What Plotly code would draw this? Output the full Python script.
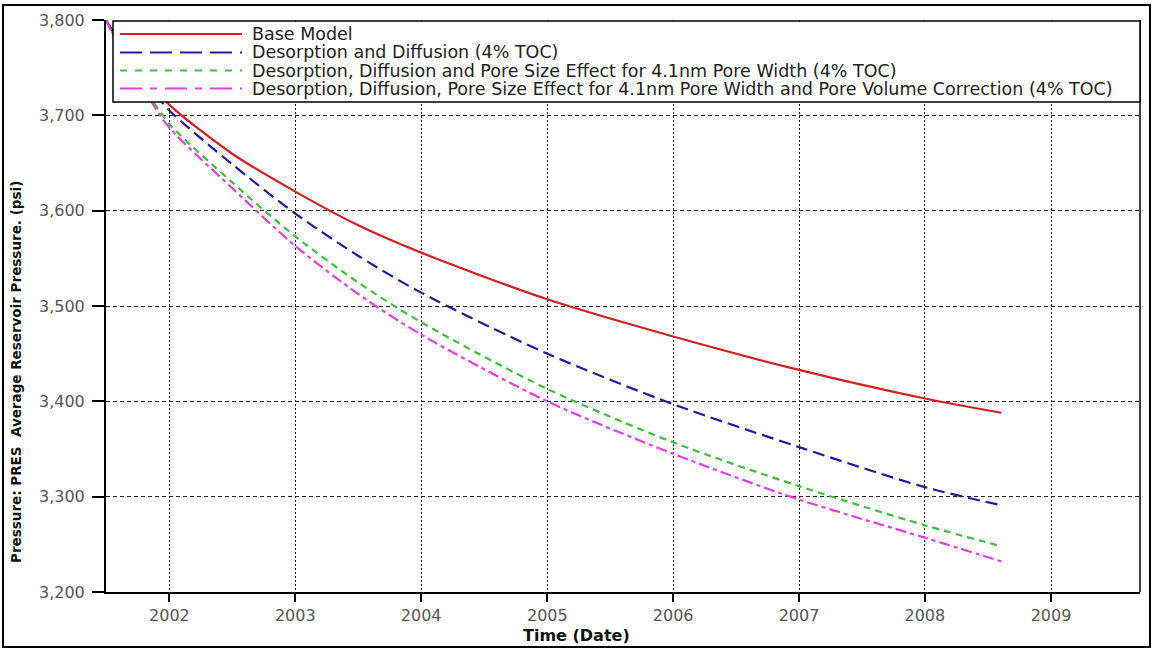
import plotly.graph_objects as go

# ---- data -------------------------------------------------------------
dates = ["2001-07-01", "2001-09-01", "2001-11-01", "2002-01-01", "2002-07-01",
         "2003-01-01", "2003-07-01", "2004-01-01", "2005-01-01", "2006-01-01",
         "2007-01-01", "2008-01-01", "2008-08-10"]

base_model = [3800, 3764, 3736, 3711, 3660, 3620, 3585, 3556, 3507, 3468, 3433, 3403, 3388]
desorption_diffusion = [3800, 3761, 3731, 3705, 3649, 3597, 3553, 3514, 3450, 3397, 3352, 3310, 3291]
pore_size_effect = [3800, 3757, 3722, 3691, 3630, 3573, 3525, 3483, 3413, 3357, 3311, 3270, 3248]
pore_volume_corr = [3800, 3755, 3719, 3687, 3624, 3563, 3513, 3470, 3400, 3345, 3297, 3257, 3232]

series_names = [
    "Base Model",
    "Desorption and Diffusion (4% TOC)",
    "Desorption, Diffusion and Pore Size Effect for 4.1nm Pore Width (4% TOC)",
    "Desorption, Diffusion, Pore Size Effect for 4.1nm Pore Width and Pore Volume Correction (4% TOC)",
]
series_values = [base_model, desorption_diffusion, pore_size_effect, pore_volume_corr]
series_colors = ["#d02020", "#1c1c9c", "#3cbf3c", "#e040e0"]
line_dashes = ["solid", "12px,6px", "7px,5px", "11px,4px,4px,4px"]
legend_dashes = ["solid", "22px,8px", "7px,8px", "22px,8px,7px,8px"]

y_ticks = [3200, 3300, 3400, 3500, 3600, 3700, 3800]

# ---- geometry of the page ----------------------------------------------
W, H = 1153, 650
L, R, T, B = 106, 13, 20, 58
PW, PH = W - L - R, H - T - B


def px_x(px):
    return (px - L) / PW


def px_y(py):
    return (H - B - py) / PH


fig = go.Figure()

for name, vals, col, dash in zip(series_names, series_values, series_colors, line_dashes):
    fig.add_trace(go.Scatter(
        x=dates, y=vals, name=name, mode="lines",
        line=dict(color=col, width=2.2, dash=dash, shape="spline", smoothing=0.8),
        showlegend=False,
    ))

tick_font = dict(family="DejaVu Sans", size=16, color="#555555")

fig.update_xaxes(
    type="date",
    range=["2001-07-01", "2009-09-16"],
    tick0="2002-01-01", dtick="M12", tickformat="%Y",
    showline=True, linecolor="black", linewidth=2,
    ticks="outside", ticklen=8, tickwidth=2, tickcolor="black",
    showgrid=True, gridcolor="#222222", gridwidth=1, griddash="2px,2px",
    tickfont=tick_font, ticklabelstandoff=0,
    zeroline=False,
)
fig.update_yaxes(
    range=[3200, 3800],
    tickvals=y_ticks, tickformat=",",
    showline=True, linecolor="black", linewidth=2,
    ticks="outside", ticklen=12, tickwidth=2, tickcolor="black",
    showgrid=True, gridcolor="#222222", gridwidth=1, griddash="4px,3px",
    tickfont=tick_font, ticklabelstandoff=4,
    zeroline=False,
)

shapes = []
# right border of the plotting area
shapes.append(dict(type="line", xref="paper", yref="paper", x0=1, x1=1, y0=0, y1=1,
                   line=dict(color="black", width=1.5), layer="above"))
# outer frame of the page
shapes.append(dict(type="rect", xref="paper", yref="paper",
                   x0=px_x(3), x1=px_x(1150), y0=px_y(647), y1=px_y(5),
                   line=dict(color="black", width=2), fillcolor="rgba(0,0,0,0)", layer="above"))
# legend box
shapes.append(dict(type="rect", xref="paper", yref="paper",
                   x0=px_x(113), x1=px_x(1140), y0=px_y(102), y1=px_y(21),
                   line=dict(color="black", width=1.5), fillcolor="white", layer="above"))

annotations = []
row_y = [34, 52.5, 70.5, 88.5]
for name, col, dash, ry in zip(series_names, series_colors, legend_dashes, row_y):
    shapes.append(dict(type="line", xref="paper", yref="paper",
                       x0=px_x(120), x1=px_x(242), y0=px_y(ry), y1=px_y(ry),
                       line=dict(color=col, width=2, dash=dash), layer="above"))
    annotations.append(dict(xref="paper", yref="paper", x=px_x(250), y=px_y(ry),
                            xanchor="left", yanchor="middle", showarrow=False,
                            text=name, font=dict(family="DejaVu Sans", size=17.5, color="#222222")))

# axis titles
annotations.append(dict(xref="paper", yref="paper", x=px_x(576), y=px_y(635),
                        xanchor="center", yanchor="middle", showarrow=False,
                        text="<b>Time (Date)</b>",
                        font=dict(family="DejaVu Sans", size=16, color="#111111")))
annotations.append(dict(xref="paper", yref="paper", x=px_x(16), y=px_y(372),
                        xanchor="center", yanchor="middle", showarrow=False, textangle=-90,
                        text="<b>Pressure: PRES\u00a0 Average Reservoir Pressure. (psi)</b>",
                        font=dict(family="DejaVu Sans", size=13.5, color="#111111")))

fig.update_layout(
    width=W, height=H,
    margin=dict(l=L, r=R, t=T, b=B),
    paper_bgcolor="white", plot_bgcolor="white",
    shapes=shapes, annotations=annotations,
    showlegend=False,
)

fig.write_html("out.html")
